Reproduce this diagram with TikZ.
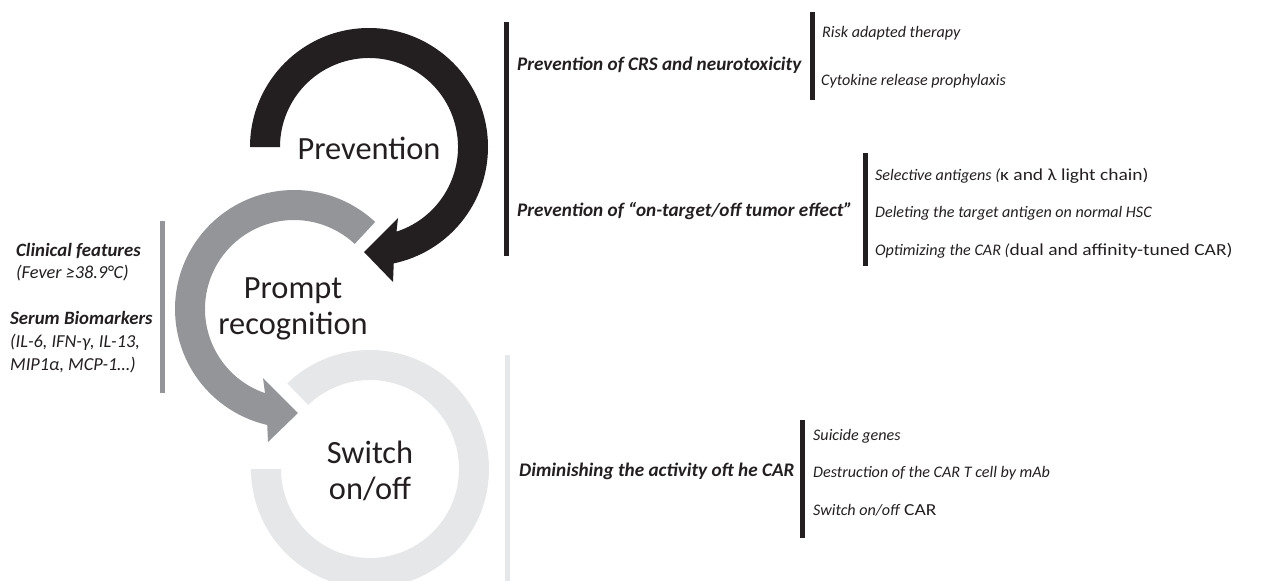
\documentclass[tikz,border=0pt]{standalone}
\usepackage{fontspec}
\setmainfont{Carlito}
\newfontfamily\uprightwide[FakeStretch=1.16]{Carlito}
\usetikzlibrary{calc}
\definecolor{darkarc}{HTML}{231F20}
\definecolor{midarc}{HTML}{939598}
\definecolor{lightarc}{HTML}{E6E7E8}
\newcommand{\upw}[1]{{\uprightwide\fontsize{16.8}{20}\selectfont #1}}
\begin{document}
\begin{tikzpicture}[x=1pt,y=1pt,
  biglabel/.style={font=\fontsize{32.4}{36.5}\selectfont, text=darkarc, align=center, inner sep=0pt},
  headtext/.style={font=\fontsize{19.2}{22}\selectfont\bfseries\itshape, text=darkarc, anchor=west, inner sep=0pt},
  itemtext/.style={font=\fontsize{16.1}{19}\selectfont, text=darkarc, anchor=west, inner sep=0pt},
  lefthead/.style={font=\fontsize{18.8}{22}\selectfont\bfseries\itshape, text=darkarc, anchor=west, inner sep=0pt},
  leftitem/.style={font=\fontsize{18.3}{22}\selectfont\itshape, text=darkarc, anchor=west, inner sep=0pt},
  barblack/.style={fill=darkarc},
  bargray/.style={fill=midarc},
  barlight/.style={fill=lightarc}]
\useasboundingbox (0,0) rectangle (1267,-581);
% centres
\coordinate (C1) at (369,-147);
\coordinate (C2) at (294,-309);
\coordinate (C3) at (370,-469);
% light ring
\fill[lightarc] ($(C3)+(134:119)$) arc[start angle=134, end angle=-180, radius=119]
  -- ($(C3)+(180:89)$) arc[start angle=-180, end angle=134, radius=89] -- cycle;
% gray arrow
\fill[midarc] ($(C2)+(47:119)$) arc[start angle=47, end angle=257, radius=119]
  -- (268,-442) -- (298,-413) -- (263,-378)
  -- ($(C2)+(251:89)$) arc[start angle=251, end angle=47, radius=89] -- cycle;
% black arrow
\fill[darkarc] ($(C1)+(180:119)$) arc[start angle=180, end angle=-78, radius=119]
  -- (393,-282) -- (364,-252) -- (398,-218)
  -- ($(C1)+(-72:89)$) arc[start angle=-72, end angle=180, radius=89] -- cycle;
% big labels
\node[biglabel] (prev) at (369,-148) {Prevention};
\node[biglabel] (prompt) at (293,-309) {Prompt\\recognition};
\node[biglabel] (switch) at (370,-471) {Switch\\on/off};
% bars
\fill[bargray] (160,-221) rectangle (165,-393);
\fill[barblack] (504,-22) rectangle (509,-256);
\fill[barblack] (810,-12) rectangle (815,-100);
\fill[barblack] (863,-153) rectangle (868,-266);
\fill[barlight] (505,-355) rectangle (510,-581);
\fill[barblack] (800,-420) rectangle (805,-538);
% left texts
\node[lefthead] (clin) at (16,-251) {Clinical features};
\node[leftitem] (fever) at (16,-273) {(Fever ≥38.9°C)};
\node[lefthead] (serum) at (10,-318) {Serum Biomarkers};
\node[leftitem] (il) at (10,-342) {(IL-6, IFN-γ, IL-13,};
\node[leftitem] (mip) at (10,-365) {MIP1α, MCP-1…)};
% top right
\node[headtext] (crs) at (517,-65) {Prevention of CRS and neurotoxicity};
\node[itemtext] (risk) at (822,-33) {\itshape Risk adapted therapy};
\node[itemtext] (cyto) at (821,-81) {\itshape Cytokine release prophylaxis};
\node[headtext] (ontarget) at (517,-211) {Prevention of “on-target/off tumor effect”};
\node[itemtext] (sel) at (875,-176) {\textit{Selective antigens (}\upw{κ and λ light chain)}};
\node[itemtext] (del) at (875,-213) {\itshape Deleting the target antigen on normal HSC};
\node[itemtext] (opt) at (875,-251) {\textit{Optimizing the CAR (}\upw{dual and affinity-tuned CAR)}};
% bottom right
\node[headtext] (dim) at (519,-471) {Diminishing the activity oft he CAR};
\node[itemtext] (sui) at (813,-436) {\itshape Suicide genes};
\node[itemtext] (des) at (813,-473) {\itshape Destruction of the CAR T cell by mAb};
\node[itemtext] (swc) at (813,-510) {\textit{Switch on/off} \upw{CAR}};
\end{tikzpicture}
\end{document}
